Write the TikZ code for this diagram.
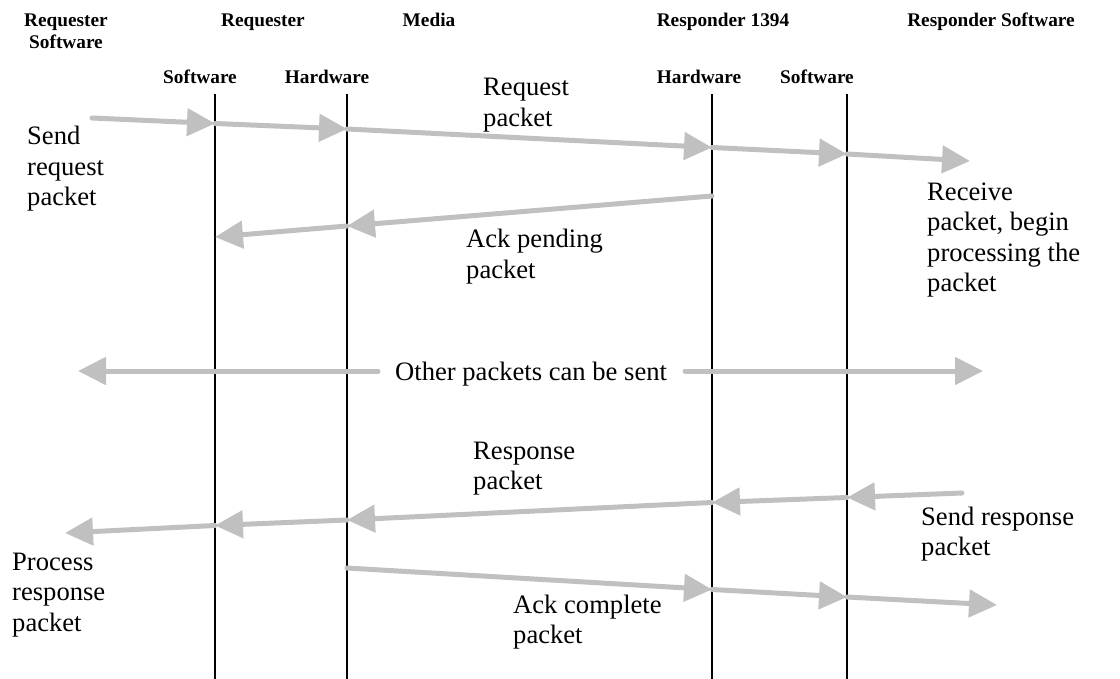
\documentclass[tikz,border=0pt]{standalone}
\usepackage{fontspec}
\setmainfont{Liberation Serif}
\usetikzlibrary{arrows.meta}
\definecolor{arrowgray}{RGB}{192,192,192}
\begin{document}
\begin{tikzpicture}[x=1pt,y=-1pt,
  lifeline/.style={line width=1.4pt,draw=black},
  msg/.style={line width=5pt,draw=arrowgray,line cap=round,-{Triangle[length=28pt,width=27pt,fill=arrowgray]}},
  hdr/.style={font=\fontsize{19.3}{22}\selectfont\bfseries,inner sep=0pt,anchor=base,align=center},
  lbl/.style={font=\fontsize{26.6}{30.5}\selectfont,inner sep=0pt,anchor=base west,align=left}]
\useasboundingbox (0,0) rectangle (1120,679);

% headers (base anchor = baseline of the last line)
\node[hdr] (h1) at (66,49) {Requester\\Software};
\node[hdr] (h2) at (263,27) {Requester};
\node[hdr] (h3) at (429,27) {Media};
\node[hdr] (h4) at (723,27) {Responder 1394};
\node[hdr] (h5) at (991,27) {Responder Software};
\node[hdr] (s1) at (200,84) {Software};
\node[hdr] (s2) at (327,84) {Hardware};
\node[hdr] (s3) at (699,84) {Hardware};
\node[hdr] (s4) at (817,84) {Software};

% lifelines
\coordinate (l1t) at (215,94); \coordinate (l1b) at (215,679);
\coordinate (l2t) at (347,94); \coordinate (l2b) at (347,679);
\coordinate (l3t) at (712,94); \coordinate (l3b) at (712,679);
\coordinate (l4t) at (847,94); \coordinate (l4b) at (847,679);
\draw[lifeline] (l1t) -- (l1b);
\draw[lifeline] (l2t) -- (l2b);
\draw[lifeline] (l3t) -- (l3b);
\draw[lifeline] (l4t) -- (l4b);

% row 1: request packet
\coordinate (a0) at (92,118);
\coordinate (a1) at (215,123.5);
\coordinate (a2) at (347,129);
\coordinate (a3) at (712,147.5);
\coordinate (a4) at (847,154);
\coordinate (a5) at (970,161);
\draw[msg] (a0) -- (a1);
\draw[msg] (a1) -- (a2);
\draw[msg] (a2) -- (a3);
\draw[msg] (a3) -- (a4);
\draw[msg] (a4) -- (a5);

% row 2: ack pending
\coordinate (b0) at (712,196);
\coordinate (b1) at (347,226);
\coordinate (b2) at (215,237);
\draw[msg] (b0) -- (b1);
\draw[msg] (b1) -- (b2);

% row 3: other packets
\coordinate (c0) at (378,371);
\coordinate (c1) at (78,371);
\coordinate (c2) at (685,371);
\coordinate (c3) at (983,371);
\draw[msg] (c0) -- (c1);
\draw[msg] (c2) -- (c3);

% row 4: response packet
\coordinate (d0) at (962,493);
\coordinate (d1) at (847,497.5);
\coordinate (d2) at (712,502.5);
\coordinate (d3) at (347,520);
\coordinate (d4) at (215,525.5);
\coordinate (d5) at (65,533);
\draw[msg] (d0) -- (d1);
\draw[msg] (d1) -- (d2);
\draw[msg] (d2) -- (d3);
\draw[msg] (d3) -- (d4);
\draw[msg] (d4) -- (d5);

% row 5: ack complete
\coordinate (e0) at (347,568);
\coordinate (e1) at (712,589.5);
\coordinate (e2) at (847,597);
\coordinate (e3) at (997,605);
\draw[msg] (e0) -- (e1);
\draw[msg] (e1) -- (e2);
\draw[msg] (e2) -- (e3);

% labels (base anchor = baseline of the last line)
\node[lbl] (t1) at (27,206) {Send\\request\\packet};
\node[lbl] (t2) at (483,126.5) {Request\\packet};
\node[lbl] (t3) at (927,291.5) {Receive\\packet, begin\\processing the\\packet};
\node[lbl] (t4) at (466,278.5) {Ack pending\\packet};
\node[lbl] (t5) at (395,381) {Other packets can be sent};
\node[lbl] (t6) at (473,489.5) {Response\\packet};
\node[lbl] (t7) at (921,555.5) {Send response\\packet};
\node[lbl] (t8) at (12,631) {Process\\response\\packet};
\node[lbl] (t9) at (513,643.5) {Ack complete\\packet};
\end{tikzpicture}
\end{document}
